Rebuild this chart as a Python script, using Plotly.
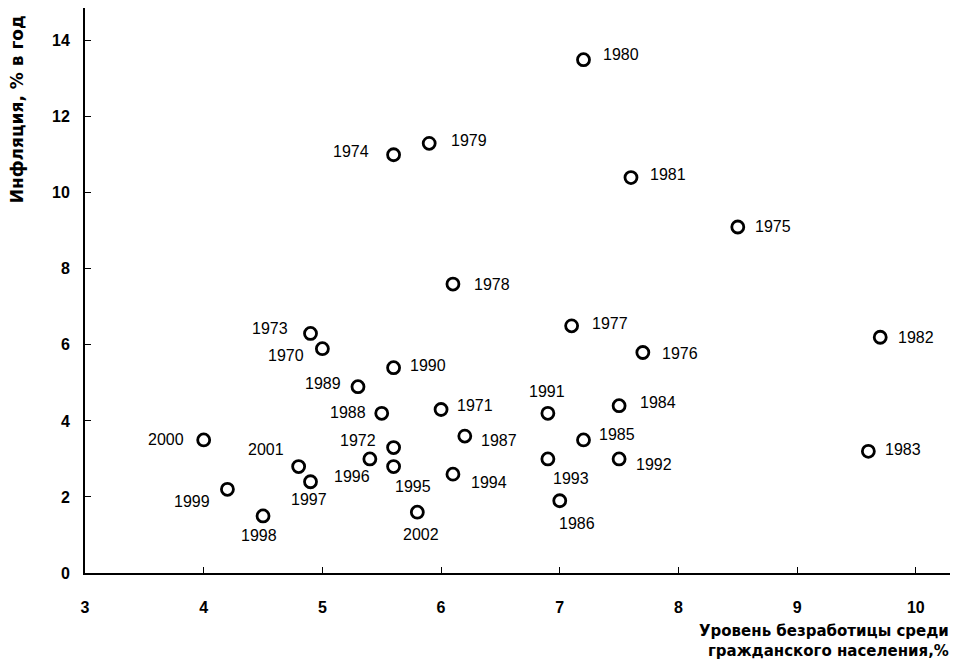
import plotly.graph_objects as go

# US unemployment vs inflation, 1970-2002
years = [1970, 1971, 1972, 1973, 1974, 1975, 1976, 1977, 1978, 1979, 1980,
         1981, 1982, 1983, 1984, 1985, 1986, 1987, 1988, 1989, 1990, 1991,
         1992, 1993, 1994, 1995, 1996, 1997, 1998, 1999, 2000, 2001, 2002]
unemployment = [5.0, 6.0, 5.6, 4.9, 5.6, 8.5, 7.7, 7.1, 6.1, 5.9, 7.2,
                7.6, 9.7, 9.6, 7.5, 7.2, 7.0, 6.2, 5.5, 5.3, 5.6, 6.9,
                7.5, 6.9, 6.1, 5.6, 5.4, 4.9, 4.5, 4.2, 4.0, 4.8, 5.8]
inflation = [5.9, 4.3, 3.3, 6.3, 11.0, 9.1, 5.8, 6.5, 7.6, 11.3, 13.5,
             10.4, 6.2, 3.2, 4.4, 3.5, 1.9, 3.6, 4.2, 4.9, 5.4, 4.2,
             3.0, 3.0, 2.6, 2.8, 3.0, 2.4, 1.5, 2.2, 3.5, 2.8, 1.6]
x_ticks = [3, 4, 5, 6, 7, 8, 9, 10]
y_ticks = [0, 2, 4, 6, 8, 10, 12, 14]

# pixel offsets of each year label from its marker (right, up)
label_shift = {
    1970: (-36, -7), 1971: (34, 4), 1972: (-36, 7), 1973: (-41, 5),
    1974: (-43, 3), 1975: (35, 1), 1976: (37, -1), 1977: (38, 2),
    1978: (39, 0), 1979: (40, 3), 1980: (37, 5), 1981: (37, 3),
    1982: (36, 0), 1983: (35, 2), 1984: (39, 3), 1985: (33, 5),
    1986: (17, -23), 1987: (34, -4), 1988: (-34, 1), 1989: (-35, 3),
    1990: (34, 2), 1991: (-1, 22), 1992: (35, -6), 1993: (23, -20),
    1994: (36, -8), 1995: (19, -20), 1996: (-18, -18), 1997: (-2, -18),
    1998: (-4, -20), 1999: (-35, -12), 2000: (-38, 0), 2001: (-33, 17),
    2002: (4, -22),
}

font_main = 'Liberation Sans, Arial, sans-serif'
font_title = 'DejaVu Sans, Liberation Sans, sans-serif'

fig = go.Figure(go.Scatter(
    x=unemployment,
    y=inflation,
    mode='markers',
    marker=dict(symbol='circle', size=12, color='white',
                line=dict(color='black', width=2.8)),
    hovertext=[str(y) for y in years],
    showlegend=False
))

annotations = []
for yr, ux, inf in zip(years, unemployment, inflation):
    dx, dy = label_shift[yr]
    annotations.append(dict(
        x=ux, y=inf, text=str(yr), showarrow=False,
        xshift=dx, yshift=dy, xanchor='center', yanchor='middle',
        font=dict(family=font_main, size=16, color='black')
    ))

annotations.append(dict(
    xref='paper', yref='paper', x=-0.078, y=0.991,
    xanchor='center', yanchor='top', textangle=-90,
    text='<b>Инфляция, % в год</b>', showarrow=False,
    font=dict(family=font_title, size=17, color='black')
))
annotations.append(dict(
    xref='paper', yref='paper', x=0.995, y=-0.083,
    xanchor='right', yanchor='top', align='right',
    text='<b>Уровень безработицы среди<br>гражданского населения,%</b>',
    showarrow=False,
    font=dict(family=font_title, size=15, color='black')
))

# page body adds an 8px offset, so the figure is 950x660
fig.update_layout(
    width=950,
    height=660,
    margin=dict(l=77, r=3, t=0, b=95),
    paper_bgcolor='white',
    plot_bgcolor='white',
    xaxis=dict(
        range=[3, 10.33], tickvals=x_ticks, showgrid=False, zeroline=False,
        showline=True, linecolor='black', linewidth=2,
        ticks='inside', ticklen=6, tickcolor='black', tickwidth=1,
        ticklabelstandoff=19, automargin=False,
        tickfont=dict(family=font_main, size=16, color='black', weight='bold')
    ),
    yaxis=dict(
        range=[0, 14.86], tickvals=y_ticks, showgrid=False, zeroline=False,
        showline=True, linecolor='black', linewidth=2,
        ticks='inside', ticklen=6, tickcolor='black', tickwidth=1,
        ticklabelstandoff=10, automargin=False,
        tickfont=dict(family=font_main, size=16, color='black', weight='bold')
    ),
    annotations=annotations
)

fig.write_html("out.html")
